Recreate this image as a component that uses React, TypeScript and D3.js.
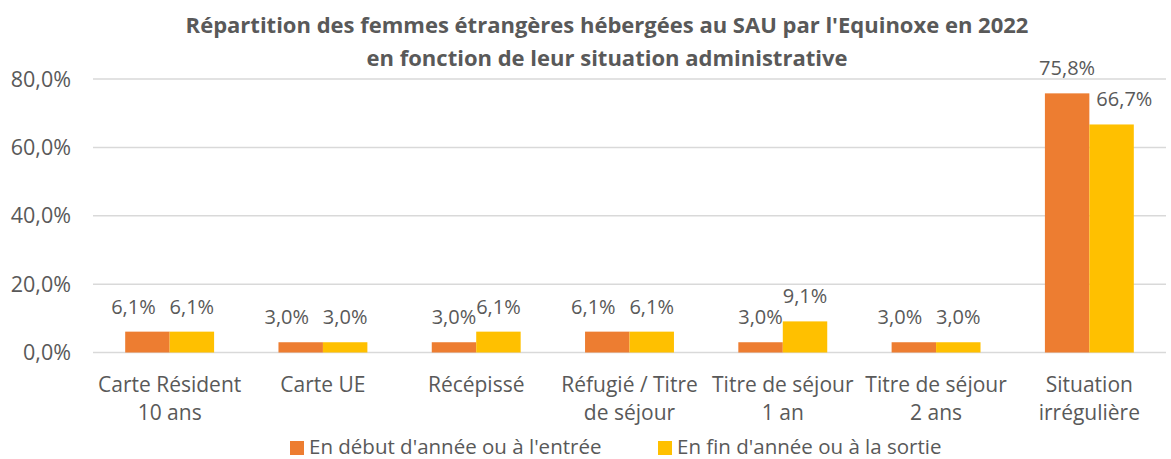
import React from "react";
import * as d3 from "d3";

const categories: string[][] = [
  ["Carte Résident", "10 ans"],
  ["Carte UE"],
  ["Récépissé"],
  ["Réfugié / Titre", "de séjour"],
  ["Titre de séjour", "1 an"],
  ["Titre de séjour", "2 ans"],
  ["Situation", "irrégulière"],
];
const seriesNames = ["En début d'année ou à l'entrée", "En fin d'année ou à la sortie"];
const debut = [6.1, 3.0, 3.0, 6.1, 3.0, 3.0, 75.8];
const fin = [6.1, 3.0, 6.1, 6.1, 9.1, 3.0, 66.7];
const yTicks = [0, 20, 40, 60, 80];
const colors = ["#ED7D31", "#FFC000"];
const titleLines = [
  "Répartition des femmes étrangères hébergées au SAU par l'Equinoxe en 2022",
  "en fonction de leur situation administrative",
];

const W = 1171, H = 459;
const font = "'Open Sans', 'Noto Sans', sans-serif";
const textColor = "#595959";

export default function App() {
  const left = 93, right = 1166, top = 79, bottom = 352.5;
  const x = d3.scaleBand<number>().domain(d3.range(categories.length)).range([left, right]).paddingInner(0.42).paddingOuter(0.21);
  const inner = d3.scaleBand<number>().domain([0, 1]).range([0, x.bandwidth()]);
  const y = d3.scaleLinear().domain([0, 80]).range([bottom, top]);
  const fmt = (v: number) => v.toFixed(1).replace(".", ",") + "%";
  const series = [debut, fin];
  const textW = (s: string) => s.length * 11.6;
  const labelOffset = 18;
  // simple overlap avoidance similar to the spreadsheet's label placement
  const shiftFor = (ci: number, si: number) => {
    const bw = inner.bandwidth();
    if (si === 0) {
      const dy = Math.abs(y(debut[ci]) - y(fin[ci]));
      const gap = bw - textW(fmt(debut[ci]));
      return dy < 3 && gap < 10 ? -(10 - gap + 2) : 0;
    }
    // yellow label overlapping the taller orange bar: push right
    const labelBottom = y(fin[ci]) - labelOffset + 5;
    const w = textW(fmt(fin[ci]));
    const cx = (x(ci) as number) + (inner(1) as number) + bw / 2;
    const orangeRight = (x(ci) as number) + (inner(1) as number);
    if (labelBottom > y(debut[ci]) + 3 && cx - w / 2 < orangeRight) {
      return orangeRight - (cx - w / 2) + 6;
    }
    return 0;
  };
  return (
    <svg width={W} height={H} style={{ position: "absolute", left: 0, top: 0, background: "#fff" }} fontFamily={font}>
      {titleLines.map((t, i) => (
        <text key={i} x={607} y={33 + i * 33} textAnchor="middle" fontSize={22} fontWeight="bold" fill={textColor}>{t}</text>
      ))}
      {yTicks.map((t) => (
        <g key={t}>
          <line x1={left} x2={right} y1={y(t)} y2={y(t)} stroke="#D9D9D9" strokeWidth={1.5} />
          <text x={71} y={y(t)} dy="0.35em" textAnchor="end" fontSize={21.5} fill={textColor}>{fmt(t)}</text>
        </g>
      ))}
      {series.map((s, si) =>
        s.map((v, ci) => {
          const bx = (x(ci) as number) + (inner(si) as number);
          return (
            <g key={`${si}-${ci}`}>
              <rect x={bx} y={y(v)} width={inner.bandwidth()} height={bottom - y(v)} fill={colors[si]} />
              <text x={bx + inner.bandwidth() / 2 + shiftFor(ci, si)} y={y(v) - labelOffset} textAnchor="middle" fontSize={20} fill={textColor}>{fmt(v)}</text>
            </g>
          );
        })
      )}
      {categories.map((lines, ci) => (
        <text key={ci} x={(x(ci) as number) + x.bandwidth() / 2} y={392} textAnchor="middle" fontSize={21} fill={textColor}>
          {lines.map((l, li) => (
            <tspan key={li} x={(x(ci) as number) + x.bandwidth() / 2} dy={li === 0 ? 0 : 28}>{l}</tspan>
          ))}
        </text>
      ))}
      {seriesNames.map((n, i) => {
        const lx = [290, 658][i];
        return (
          <g key={i}>
            <rect x={lx} y={441} width={14} height={14} fill={colors[i]} />
            <text x={lx + 19} y={454} fontSize={20.5} fill={textColor}>{n}</text>
          </g>
        );
      })}
    </svg>
  );
}
